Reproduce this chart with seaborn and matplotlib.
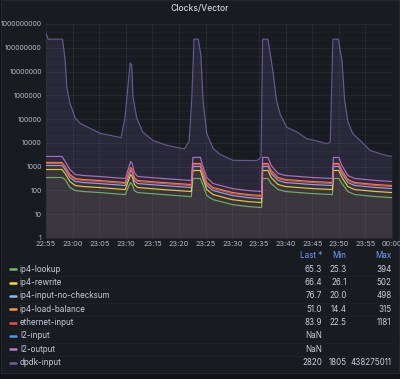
import numpy as np
import pandas as pd
import matplotlib
matplotlib.use("Agg")
import matplotlib.pyplot as plt
import matplotlib.dates as mdates
from matplotlib.lines import Line2D
from matplotlib.patches import Rectangle
from matplotlib.ticker import LogLocator, NullFormatter, FixedLocator
import seaborn as sns

# minutes after 22:55 for the graph-node series
t_nodes = [0, 3.0, 3.6, 4.5, 5.5, 7, 10, 14.9, 15.5, 15.9, 16.2, 16.6, 17.2, 22, 27.3,
           27.6, 29.0, 29.6, 30.2, 31.4, 35, 38, 40.5, 40.7, 41.7, 42.3, 43.6, 45, 50,
           53.8, 54.0, 55.0, 55.6, 56.7, 58, 62, 65]

l2_output = [2690, 2690, 1660, 760, 469, 425, 386, 318, 840, 1660, 1360, 570, 386, 318, 262,
             2440, 2440, 840, 350, 195, 120, 99, 90, 2440, 2440, 1120, 516, 425, 350,
             318, 2440, 2440, 1120, 425, 318, 262, 238]
ip4_load_balance = [1500, 1500, 1020, 469, 318, 288, 262, 215, 516, 925, 760, 350, 262, 215, 177,
                    1360, 1360, 516, 215, 133, 82, 67, 61, 1360, 1360, 690, 350, 288, 238,
                    215, 1360, 1360, 690, 288, 215, 177, 161]
ethernet_input = [1360, 1360, 925, 425, 288, 262, 238, 195, 469, 840, 690, 318, 238, 195, 161,
                  1240, 1240, 469, 195, 120, 74, 61, 55, 1240, 1240, 630, 318, 262, 215,
                  195, 1240, 1240, 630, 262, 195, 161, 146]
ip4_input_no_checksum = [1120, 1120, 760, 350, 238, 215, 195, 161, 386, 690, 570, 262, 195, 161, 133,
                         1020, 1020, 386, 161, 99, 61, 50, 45, 1020, 1020, 516, 262, 215, 177,
                         161, 1020, 1020, 516, 215, 161, 133, 120]
ip4_rewrite = [760, 760, 516, 238, 161, 146, 133, 109, 262, 469, 386, 177, 133, 109, 90,
               690, 690, 262, 109, 67, 41, 34, 31, 690, 690, 350, 177, 146, 120,
               109, 690, 690, 350, 146, 109, 90, 82]
ip4_lookup = [350, 350, 288, 133, 99, 90, 82, 67, 146, 215, 177, 99, 82, 67, 55,
              318, 318, 146, 61, 41, 25.4, 21, 19, 318, 318, 195, 109, 90, 74,
              67, 318, 318, 195, 90, 67, 55, 50]

# dpdk-input has its own sampling
t_dpdk = [0, 0.4, 3.1, 3.6, 3.9, 4.5, 5.5, 6.4, 8.3, 10.2, 12.0, 14.1, 14.85, 15.3, 15.8,
          16.1, 16.35, 17.05, 18.2, 20.1, 22.7, 26.0, 26.9, 27.4, 27.8, 28.6, 29.1, 29.5,
          30.2, 31.4, 32.7, 35.1, 39.6, 40.4, 40.7, 41.7, 42.7, 43.3, 44.0, 45.2, 47.1,
          49.0, 50.9, 52.8, 53.4, 53.9, 54.9, 55.6, 56.1, 56.7, 57.6, 59.0, 60.9, 62.8,
          64.7, 65]
dpdk_input = [4.0e8, 2.3e8, 2.3e8, 3.0e7, 2.3e6, 4.6e5, 1.1e5, 6.7e4, 4.1e4, 2.5e4, 2.1e4,
              1.65e4, 1.2e5, 1.4e6, 2.3e7, 1.9e7, 8.3e5, 1.1e5, 2.8e4, 1.27e4, 7.9e3, 5.6e3,
              1.2e4, 8.3e5, 2.3e8, 2.3e8, 4.9e7, 6.2e5, 2.5e4, 5.9e3, 3.3e3, 1.85e3, 1.8e3,
              2.5e3, 2.3e8, 2.3e8, 8.0e6, 6.2e5, 1.6e5, 4.6e4, 2.9e4, 1.5e4, 1.2e4, 9.2e3,
              1.1e4, 2.3e8, 2.3e8, 3.0e7, 6.2e5, 8.1e4, 2.5e4, 1.27e4, 4.8e3, 3.5e3, 2.7e3,
              2820]

legend_names = ["ip4-lookup", "ip4-rewrite", "ip4-input-no-checksum", "ip4-load-balance",
                "ethernet-input", "l2-input", "l2-output", "dpdk-input"]
legend_colors = ["#73BF69", "#FADE2A", "#8AB8FF", "#FF9830", "#F2495C", "#5794F2",
                 "#B877D9", "#705DA0"]
legend_last = ["65.3", "66.4", "76.7", "51.0", "83.9", "NaN", "NaN", "2820"]
legend_min = ["25.3", "26.1", "20.0", "14.4", "22.5", "", "", "1805"]
legend_max = ["394", "502", "498", "315", "1181", "", "", "438275011"]

base = pd.Timestamp("2024-01-01 22:55")
node_values = {
    "ip4-lookup": ip4_lookup,
    "ip4-rewrite": ip4_rewrite,
    "ip4-input-no-checksum": ip4_input_no_checksum,
    "ip4-load-balance": ip4_load_balance,
    "ethernet-input": ethernet_input,
    "l2-output": l2_output,
}
frames = [pd.DataFrame({"time": base + pd.to_timedelta(t_dpdk, unit="m"),
                        "value": dpdk_input, "series": "dpdk-input"})]
for name, vals in node_values.items():
    frames.append(pd.DataFrame({"time": base + pd.to_timedelta(t_nodes, unit="m"),
                                "value": vals, "series": name}))
df = pd.concat(frames, ignore_index=True)
palette = dict(zip(legend_names, legend_colors))

panel_bg = "#181b1f"
text_col = "#ccccdc"
sns.set_style("dark", {"axes.facecolor": panel_bg, "figure.facecolor": "#111217"})
plt.rcParams["font.family"] = ["Inter", "DejaVu Sans"]

fig = plt.figure(figsize=(4.0, 3.79), dpi=100)
fig.add_artist(Rectangle((0.003, 1 - 373 / 379), 0.994, 373 / 379 - 0.001,
                         transform=fig.transFigure, facecolor=panel_bg,
                         edgecolor="#24272e", lw=0.8, zorder=-5))
ax = fig.add_axes([46 / 400, 1 - 238 / 379, 346 / 400, 214 / 379])
ax.set_facecolor(panel_bg)

# fills under the curves
for name, grp in df.groupby("series"):
    alpha = 0.2 if name == "dpdk-input" else 0.022
    ax.fill_between(grp["time"], grp["value"], 1, color=palette[name], alpha=alpha,
                    lw=0, zorder=1)

order = ["dpdk-input", "ip4-lookup", "ip4-rewrite", "ip4-input-no-checksum",
         "ip4-load-balance", "ethernet-input", "l2-output"]
sns.lineplot(data=df, x="time", y="value", hue="series", hue_order=order,
             palette=palette, legend=False, linewidth=0.85, alpha=0.9, ax=ax, zorder=3,
             estimator=None, sort=False)

ax.set_yscale("log")
ax.set_ylim(1, 1e9)
ax.set_xlim(base, base + pd.Timedelta(minutes=65))
ax.yaxis.set_major_locator(FixedLocator([10.0 ** k for k in range(10)]))
ax.yaxis.set_major_formatter(matplotlib.ticker.FuncFormatter(lambda v, p: f"{int(round(v))}"))
ax.yaxis.set_minor_locator(LogLocator(base=10, subs=[10 ** (1 / 3), 10 ** (2 / 3)], numticks=40))
ax.yaxis.set_minor_formatter(NullFormatter())
ax.xaxis.set_major_locator(mdates.MinuteLocator(byminute=range(0, 60, 5)))
ax.xaxis.set_major_formatter(mdates.DateFormatter("%H:%M"))
ax.grid(True, which="major", color="#ffffff", alpha=0.07, lw=0.6)
ax.grid(True, which="minor", axis="y", color="#ffffff", alpha=0.035, lw=0.5)
ax.tick_params(axis="both", which="both", length=0, colors="#b9b9c6")
ax.tick_params(axis="y", pad=3, labelsize=5.0)
ax.tick_params(axis="x", pad=2, labelsize=5.3)
ax.set_xlabel("")
ax.set_ylabel("")
for s in ax.spines.values():
    s.set_visible(False)

fig.text(0.5, 1 - 9 / 379, "Clocks/Vector", ha="center", va="center",
         fontsize=6.2, color=text_col, fontweight="medium")

# legend table
def fy(py):
    return 1 - py / 379

header_y = 256
hdr_col = "#6e9fff"
fs = 5.8
fig.text(322 / 400, fy(header_y), "Last *", ha="right", va="center", fontsize=fs, color=hdr_col)
fig.text(346.5 / 400, fy(header_y), "Min", ha="right", va="center", fontsize=fs, color=hdr_col)
fig.text(391.5 / 400, fy(header_y), "Max", ha="right", va="center", fontsize=fs, color=hdr_col)
row_ys = [269.3, 282.7, 296, 309.3, 322.7, 336, 349.3, 362.7]
for i, name in enumerate(legend_names):
    y = row_ys[i]
    fig.add_artist(Line2D([9.5 / 400, 16 / 400], [fy(y), fy(y)], transform=fig.transFigure,
                          color=legend_colors[i], lw=1.8, solid_capstyle="round"))
    fig.text(20 / 400, fy(y), name, ha="left", va="center", fontsize=fs, color=text_col)
    fig.text(322 / 400, fy(y), legend_last[i], ha="right", va="center", fontsize=fs, color=text_col)
    fig.text(346.5 / 400, fy(y), legend_min[i], ha="right", va="center", fontsize=fs, color=text_col)
    fig.text(391.5 / 400, fy(y), legend_max[i], ha="right", va="center", fontsize=fs, color=text_col)
    if i < len(legend_names) - 1:
        ys = fy(y + 6.7)
        fig.add_artist(Line2D([6 / 400, 394 / 400], [ys, ys], transform=fig.transFigure,
                              color="#22252b", lw=0.5))

fig.savefig("out.png", dpi=100, facecolor=fig.get_facecolor())
